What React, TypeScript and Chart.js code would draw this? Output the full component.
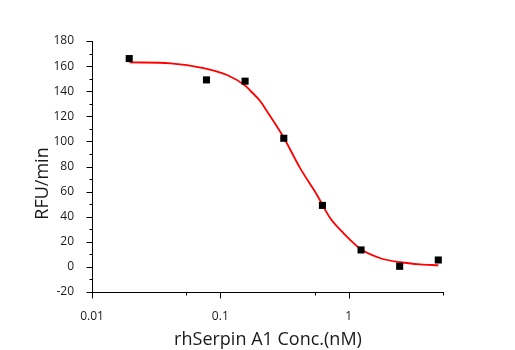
import React, { useEffect, useRef } from "react";
import { Chart, registerables } from "chart.js";

Chart.register(...registerables);

// Measured data points (concentration nM, RFU/min)
const concentrations = [0.0195, 0.078, 0.156, 0.3125, 0.625, 1.25, 2.5, 5];
const rfuValues = [166, 149, 148, 102.5, 49, 13.5, 0.5, 5.5];

// Fitted curve
const curveX = [0.0196, 0.041, 0.074, 0.113, 0.156, 0.171, 0.205, 0.231, 0.311, 0.42, 0.567, 0.72, 0.914, 1.25, 1.77, 2.53, 3.62, 5.0];
const curveY = [163, 162.2, 158.4, 152.9, 144.5, 140.5, 132, 124, 103.3, 78.5, 57.3, 38.7, 26.8, 14, 6.9, 3.7, 2.0, 1.3];

// Axis ticks
const xMajorTicks = [0.01, 0.1, 1];
const xMinorTicks = [0.0545, 0.545, 5.44];
const xMin = 0.01;
const xMax = 5.44;
const yMin = -20;
const yMax = 180;
const yMajorStep = 20;
const yMinorStep = 10;

const xTitle = "rhSerpin A1 Conc.(nM)";
const yTitle = "RFU/min";

const FONT = "'Open Sans', 'DejaVu Sans', sans-serif";

const tickPlugin = {
  id: "customTicks",
  afterDraw(chart: any) {
    const ctx = chart.ctx;
    const xs = chart.scales.x;
    const ys = chart.scales.y;
    const area = chart.chartArea;
    ctx.save();
    ctx.strokeStyle = "#000";
    ctx.lineWidth = 1;
    ctx.beginPath();
    const axisX = Math.round(area.left) + 0.5;
    for (let v = yMin; v <= yMax + 0.001; v += yMinorStep) {
      const len = Math.abs(v % yMajorStep) < 0.001 ? 6 : 3;
      const py = Math.round(ys.getPixelForValue(v)) + 0.5;
      ctx.moveTo(axisX - len, py);
      ctx.lineTo(axisX, py);
    }
    const axisY = Math.round(area.bottom) + 0.5;
    xMajorTicks.forEach((v) => {
      const px = Math.round(xs.getPixelForValue(v)) + 0.5;
      ctx.moveTo(px, axisY);
      ctx.lineTo(px, axisY + 6);
    });
    xMinorTicks.forEach((v) => {
      const px = Math.round(xs.getPixelForValue(v)) + 0.5;
      ctx.moveTo(px, axisY);
      ctx.lineTo(px, axisY + 3);
    });
    ctx.stroke();

    ctx.fillStyle = "#1a1a1a";
    ctx.font = `18px ${FONT}`;
    ctx.textAlign = "center";
    ctx.textBaseline = "alphabetic";
    ctx.fillText(xTitle, 268, 345);

    ctx.translate(48, 183.5);
    ctx.rotate(-Math.PI / 2);
    ctx.fillText(yTitle, 0, 0);
    ctx.restore();
  },
};

export default function App() {
  const canvasRef = useRef<HTMLCanvasElement>(null);

  useEffect(() => {
    const canvas = canvasRef.current;
    if (!canvas) return;
    const chart = new Chart(canvas, {
      type: "scatter",
      data: {
        datasets: [
          {
            label: "data",
            data: concentrations.map((c, i) => ({ x: c, y: rfuValues[i] })),
            pointStyle: "rect",
            pointRadius: 5,
            pointBackgroundColor: "#000",
            pointBorderColor: "#000",
            pointBorderWidth: 0,
            showLine: false,
            order: 0,
          },
          {
            label: "fit",
            data: curveX.map((c, i) => ({ x: c, y: curveY[i] })),
            showLine: true,
            borderColor: "#ff0000",
            borderWidth: 1.8,
            pointRadius: 0,
            cubicInterpolationMode: "monotone",
            order: 1,
          },
        ],
      },
      options: {
        responsive: false,
        animation: false,
        devicePixelRatio: 1,
        layout: { padding: { top: 41, right: 72, left: 0, bottom: 0 } },
        plugins: {
          legend: { display: false },
          tooltip: { enabled: false },
          title: { display: false },
        },
        scales: {
          x: {
            type: "logarithmic",
            min: xMin,
            max: xMax,
            afterBuildTicks: (scale: any) => {
              scale.ticks = xMajorTicks.map((v) => ({ value: v }));
            },
            afterFit: (scale: any) => {
              scale.height = 58;
            },
            grid: { display: false },
            border: { display: true, color: "#000", width: 1 },
            ticks: {
              autoSkip: false,
              maxRotation: 0,
              padding: 9,
              color: "#1a1a1a",
              font: { family: FONT, size: 12 },
              callback: (v: any) => String(v),
            },
          },
          y: {
            type: "linear",
            min: yMin,
            max: yMax,
            afterFit: (scale: any) => {
              scale.width = 92;
            },
            grid: { display: false },
            border: { display: true, color: "#000", width: 1 },
            ticks: {
              stepSize: yMajorStep,
              padding: 10,
              color: "#1a1a1a",
              font: { family: FONT, size: 12 },
            },
          },
        },
      },
      plugins: [tickPlugin],
    });
    return () => chart.destroy();
  }, []);

  return (
    <div style={{ position: "fixed", left: 0, top: 0, width: 515, height: 350, background: "#fff" }}>
      <canvas ref={canvasRef} width={515} height={350} style={{ display: "block" }} />
    </div>
  );
}
